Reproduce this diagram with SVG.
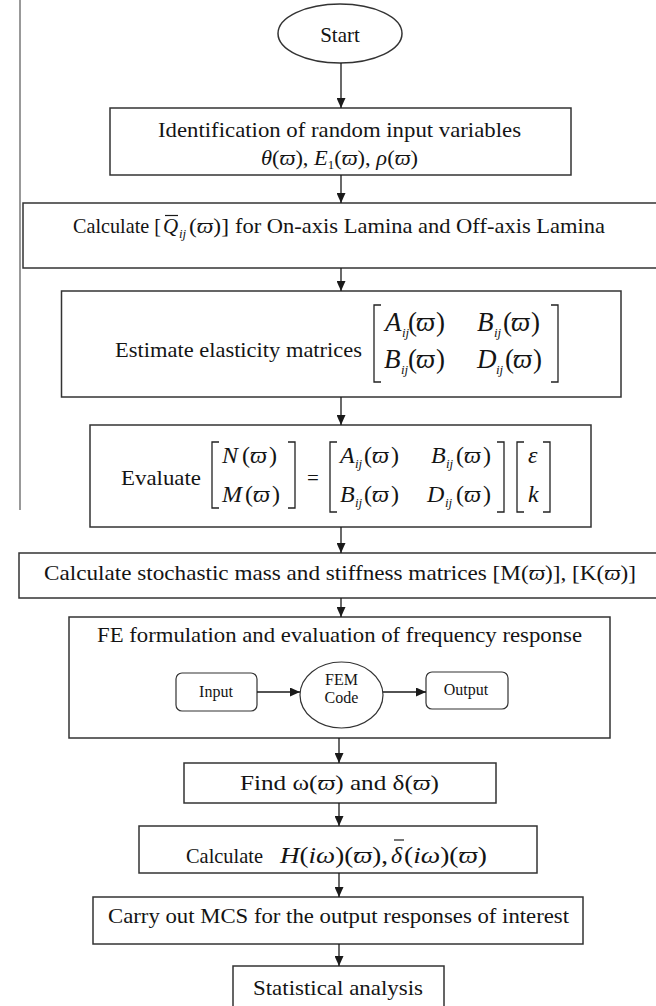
<svg xmlns="http://www.w3.org/2000/svg" width="656" height="1006" viewBox="0 0 656 1006">
  <defs>
    <marker id="arrow" viewBox="0 0 10 9" refX="10" refY="4.5" markerWidth="10" markerHeight="9" markerUnits="userSpaceOnUse" orient="auto">
      <path d="M0,0 L10,4.5 L0,9 z" fill="#1a1a1a"/>
    </marker>
    <style>
      .box { fill: #fff; stroke: #333; stroke-width: 1.5; }
      .inner { fill: #fff; stroke: #333; stroke-width: 1.2; }
      .conn { fill: none; stroke: #1a1a1a; stroke-width: 1.3; marker-end: url(#arrow); }
      .brk { fill: none; stroke: #222; stroke-width: 1.3; }
      .bar { stroke: #1a1a1a; stroke-width: 1.2; }
      text { font-family: "Liberation Serif", "Times New Roman", serif; font-size: 21px; fill: #141414; }
      .c { text-anchor: middle; }
      .it { font-style: italic; }
      .m3 { font-size: 27px; font-style: italic; }
      .m4 { font-size: 24px; font-style: italic; }
      .p3 { font-size: 27px; }
      .p4 { font-size: 24px; }
      .sub { font-size: 13px; font-style: italic; }
      .small { font-size: 16px; }
    </style>
  </defs>

  <!-- margin rule on the left -->
  <line x1="20" y1="0" x2="20" y2="510" stroke="#555" stroke-width="1.2"/>

  <!-- start terminal -->
  <g id="start">
    <ellipse class="box" cx="340" cy="33.5" rx="62" ry="29.5"/>
    <text class="c" x="340" y="42" font-size="21">Start</text>
  </g>

  <!-- random inputs -->
  <g id="identify">
    <rect class="box" x="110" y="108" width="461" height="67"/>
    <text x="158" y="137" textLength="363" lengthAdjust="spacingAndGlyphs">Identification of random input variables</text>
    <text x="261" y="165" textLength="157" lengthAdjust="spacingAndGlyphs" font-size="20"><tspan class="it">θ</tspan>(<tspan class="it">ϖ</tspan>), <tspan class="it">E</tspan><tspan font-size="12" dy="4">1</tspan><tspan dy="-4">(</tspan><tspan class="it">ϖ</tspan>), <tspan class="it">ρ</tspan>(<tspan class="it">ϖ</tspan>)</text>
  </g>

  <!-- reduced stiffness -->
  <g id="qbar">
    <rect class="box" x="23" y="203" width="640" height="65"/>
    <text x="73" y="233" textLength="88" lengthAdjust="spacingAndGlyphs">Calculate [</text>
    <text class="it" x="163" y="233">Q</text>
    <line class="bar" x1="165" y1="215.5" x2="178" y2="215.5"/>
    <text class="sub" x="179" y="238">ij</text>
    <text x="189" y="233" textLength="40" lengthAdjust="spacingAndGlyphs">(<tspan class="it">ϖ</tspan>)]</text>
    <text x="235" y="233" textLength="370" lengthAdjust="spacingAndGlyphs">for On-axis Lamina and Off-axis Lamina</text>
  </g>

  <!-- elasticity matrices -->
  <g id="elasticity">
    <rect class="box" x="61.5" y="291" width="559.5" height="106"/>
    <text x="115" y="357" textLength="247" lengthAdjust="spacingAndGlyphs">Estimate elasticity matrices</text>
    <path class="brk" d="M381,305 H374 V382 H381"/>
    <path class="brk" d="M551,305 H558 V382 H551"/>
    <text class="m3" x="385" y="331">A</text><text class="sub" x="402" y="337">ij</text>
    <text class="p3" x="408 416 436" y="331">(<tspan class="it">ϖ</tspan>)</text>
    <text class="m3" x="477" y="331">B</text><text class="sub" x="494" y="337">ij</text>
    <text class="p3" x="503 511 531" y="331">(<tspan class="it">ϖ</tspan>)</text>
    <text class="m3" x="384" y="368">B</text><text class="sub" x="401" y="374">ij</text>
    <text class="p3" x="408 416 436" y="368">(<tspan class="it">ϖ</tspan>)</text>
    <text class="m3" x="477" y="368">D</text><text class="sub" x="496" y="374">ij</text>
    <text class="p3" x="505 513 533" y="368">(<tspan class="it">ϖ</tspan>)</text>
  </g>

  <!-- resultant forces and moments -->
  <g id="evaluate">
    <rect class="box" x="90" y="425" width="501" height="102"/>
    <text x="121" y="485" textLength="80" lengthAdjust="spacingAndGlyphs">Evaluate</text>
    <path class="brk" d="M219,442 H212 V508 H219"/>
    <path class="brk" d="M288,442 H295 V508 H288"/>
    <text class="m4" x="222" y="463">N</text>
    <text class="p4" x="242 250 269" y="463">(<tspan class="it">ϖ</tspan>)</text>
    <text class="m4" x="222" y="502">M</text>
    <text class="p4" x="245 253 272" y="502">(<tspan class="it">ϖ</tspan>)</text>
    <text x="313" y="485" class="c" font-size="22">=</text>
    <path class="brk" d="M337,442 H330 V512 H337"/>
    <path class="brk" d="M497,442 H504 V512 H497"/>
    <text class="m4" x="340" y="463">A</text><text class="sub" x="355" y="468">ij</text>
    <text class="p4" x="364 372 391" y="463">(<tspan class="it">ϖ</tspan>)</text>
    <text class="m4" x="431" y="463">B</text><text class="sub" x="446" y="468">ij</text>
    <text class="p4" x="456 464 483" y="463">(<tspan class="it">ϖ</tspan>)</text>
    <text class="m4" x="340" y="502">B</text><text class="sub" x="355" y="507">ij</text>
    <text class="p4" x="364 372 391" y="502">(<tspan class="it">ϖ</tspan>)</text>
    <text class="m4" x="427" y="502">D</text><text class="sub" x="445" y="507">ij</text>
    <text class="p4" x="456 464 483" y="502">(<tspan class="it">ϖ</tspan>)</text>
    <path class="brk" d="M524,442 H517 V512 H524"/>
    <path class="brk" d="M543,442 H550 V512 H543"/>
    <text class="m4" x="528" y="463">ε</text>
    <text class="m4" x="528" y="502">k</text>
  </g>

  <!-- mass and stiffness -->
  <g id="mass-stiffness">
    <rect class="box" x="19" y="553" width="644" height="45"/>
    <text x="44" y="580" textLength="592" lengthAdjust="spacingAndGlyphs">Calculate stochastic mass and stiffness matrices [M(<tspan class="it">ϖ</tspan>)], [K(<tspan class="it">ϖ</tspan>)]</text>
  </g>

  <!-- finite element model -->
  <g id="fe-model">
    <rect class="box" x="69" y="617" width="541" height="121"/>
    <text x="97" y="642" textLength="485" lengthAdjust="spacingAndGlyphs">FE formulation and evaluation of frequency response</text>
  </g>
  <g id="input">
    <rect class="inner" x="176" y="673" width="81" height="38" rx="6"/>
    <text class="c small" x="216" y="697">Input</text>
  </g>
  <g id="fem-code">
    <ellipse class="inner" cx="341.5" cy="695" rx="41.5" ry="33"/>
    <text class="c small" x="341.5" y="685">FEM</text>
    <text class="c small" x="341.5" y="703">Code</text>
  </g>
  <g id="output">
    <rect class="inner" x="426" y="672" width="82" height="37" rx="6"/>
    <text class="c small" x="466" y="695">Output</text>
  </g>

  <!-- natural frequency and damping -->
  <g id="find">
    <rect class="box" x="184" y="763" width="312" height="40"/>
    <text x="240" y="790" textLength="199" lengthAdjust="spacingAndGlyphs">Find ω(<tspan class="it">ϖ</tspan>) and  δ(<tspan class="it">ϖ</tspan>)</text>
  </g>

  <!-- frequency response -->
  <g id="frf">
    <rect class="box" x="139" y="826" width="398" height="47"/>
    <text x="186" y="863" font-size="18" textLength="77" lengthAdjust="spacingAndGlyphs">Calculate</text>
    <text class="m4" x="280" y="863" font-size="26" textLength="108" lengthAdjust="spacingAndGlyphs">H<tspan font-style="normal">(</tspan>iω<tspan font-style="normal">)(</tspan>ϖ<tspan font-style="normal">),</tspan></text>
    <text class="m4" x="391" y="863" font-size="26">δ</text>
    <line class="bar" x1="394" y1="840" x2="404" y2="840"/>
    <text class="m4" x="404" y="863" font-size="26" textLength="83" lengthAdjust="spacingAndGlyphs"><tspan font-style="normal">(</tspan>iω<tspan font-style="normal">)(</tspan>ϖ<tspan font-style="normal">)</tspan></text>
  </g>

  <!-- Monte Carlo simulation -->
  <g id="mcs">
    <rect class="box" x="93" y="897" width="490" height="47"/>
    <text x="108" y="923" textLength="461" lengthAdjust="spacingAndGlyphs">Carry out MCS for the output responses of interest</text>
  </g>

  <!-- statistics -->
  <g id="stats">
    <rect class="box" x="233" y="966" width="211" height="50"/>
    <text x="253" y="995" textLength="170" lengthAdjust="spacingAndGlyphs">Statistical analysis</text>
  </g>

  <!-- connectors -->
  <g id="connectors">
    <line class="conn" x1="341" y1="63" x2="341" y2="108"/>
    <line class="conn" x1="341" y1="175" x2="341" y2="203"/>
    <line class="conn" x1="341" y1="268" x2="341" y2="291"/>
    <line class="conn" x1="341" y1="397" x2="341" y2="425"/>
    <line class="conn" x1="341" y1="527" x2="341" y2="553"/>
    <line class="conn" x1="341" y1="598" x2="341" y2="617"/>
    <line class="conn" x1="339" y1="738" x2="339" y2="763"/>
    <line class="conn" x1="339" y1="803" x2="339" y2="826"/>
    <line class="conn" x1="339" y1="873" x2="339" y2="897"/>
    <line class="conn" x1="339" y1="944" x2="339" y2="966"/>
    <line class="conn" x1="257" y1="692" x2="300" y2="692"/>
    <line class="conn" x1="383" y1="692" x2="426" y2="692"/>
  </g>
</svg>
